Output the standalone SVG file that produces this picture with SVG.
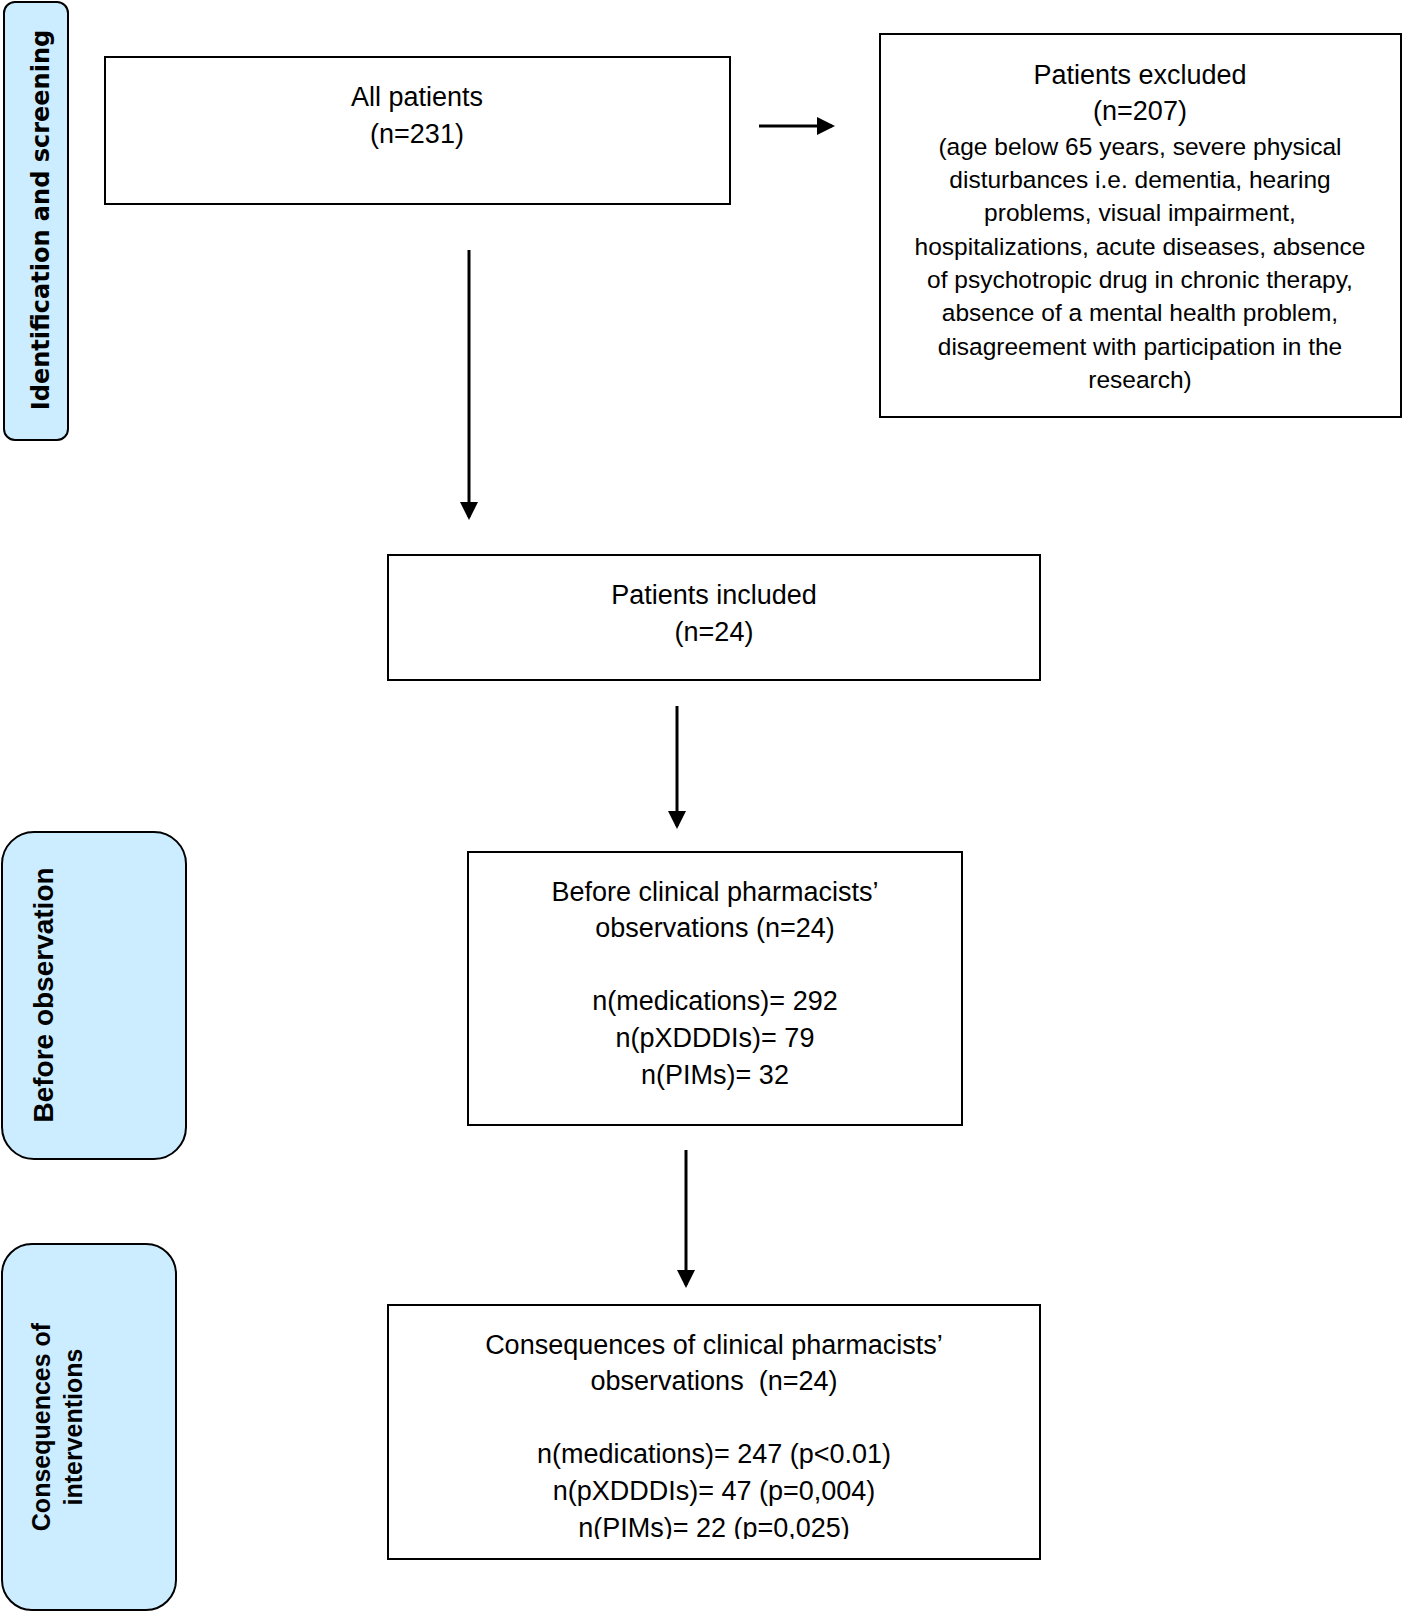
<svg xmlns="http://www.w3.org/2000/svg" width="1402" height="1612" viewBox="0 0 1402 1612">
<style>
.box{fill:#fff;stroke:#000;stroke-width:2}
.tab{fill:#CCECFF;stroke:#000;stroke-width:2}
.t{font-family:"Liberation Sans",Arial,sans-serif;font-size:27px;fill:#000;text-anchor:middle}
.s{font-size:24.5px}
.tb{font-family:"Liberation Sans",Arial,sans-serif;font-weight:bold;fill:#000;text-anchor:middle}
.tv{font-family:"DejaVu Sans",Verdana,sans-serif;font-weight:bold;font-size:24px;fill:#000;text-anchor:middle}
.c{stroke:#000;stroke-width:3;fill:none}
</style>
<defs>
<marker id="ah" markerWidth="6" markerHeight="6" refX="5" refY="3" orient="auto" markerUnits="strokeWidth">
<path d="M0,0 L6,3 L0,6 z" fill="#000"/>
</marker>
<clipPath id="clipC"><rect x="388" y="1305" width="652" height="234"/></clipPath>
</defs>
<rect width="1402" height="1612" fill="#fff"/>
<g id="tab-identification">
<rect class="tab" x="4" y="2" width="64" height="438" rx="11"/>
<text class="tv" transform="translate(49,220) rotate(-90)">Identification and screening</text>
</g>
<g id="tab-before">
<rect class="tab" x="2" y="832" width="184" height="327" rx="32"/>
<text class="tb" font-size="28" transform="translate(53,995) rotate(-90)">Before observation</text>
</g>
<g id="tab-consequences">
<rect class="tab" x="2" y="1244" width="174" height="366" rx="30"/>
<text class="tb" font-size="25" transform="translate(50,1427) rotate(-90)">Consequences of</text>
<text class="tb" font-size="25" transform="translate(82,1427) rotate(-90)">interventions</text>
</g>
<g id="node-all">
<rect class="box" x="105" y="57" width="625" height="147"/>
<text class="t" x="417" y="106">All patients</text>
<text class="t" x="417" y="143">(n=231)</text>
</g>
<g id="node-excluded">
<rect class="box" x="880" y="34" width="521" height="383"/>
<text class="t" x="1140" y="84">Patients excluded</text>
<text class="t" x="1140" y="120">(n=207)</text>
<text class="t s" x="1140" y="155">(age below 65 years, severe physical</text>
<text class="t s" x="1140" y="188">disturbances i.e. dementia, hearing</text>
<text class="t s" x="1140" y="221">problems, visual impairment,</text>
<text class="t s" x="1140" y="255">hospitalizations, acute diseases, absence</text>
<text class="t s" x="1140" y="288">of psychotropic drug in chronic therapy,</text>
<text class="t s" x="1140" y="321">absence of a mental health problem,</text>
<text class="t s" x="1140" y="355">disagreement with participation in the</text>
<text class="t s" x="1140" y="388">research)</text>
</g>
<g id="node-included">
<rect class="box" x="388" y="555" width="652" height="125"/>
<text class="t" x="714" y="604">Patients included</text>
<text class="t" x="714" y="641">(n=24)</text>
</g>
<g id="node-before">
<rect class="box" x="468" y="852" width="494" height="273"/>
<text class="t" x="715" y="901">Before clinical pharmacists’</text>
<text class="t" x="715" y="937">observations (n=24)</text>
<text class="t" x="715" y="1010">n(medications)= 292</text>
<text class="t" x="715" y="1047">n(pXDDDIs)= 79</text>
<text class="t" x="715" y="1084">n(PIMs)= 32</text>
</g>
<g id="node-consequences">
<rect class="box" x="388" y="1305" width="652" height="254"/>
<g clip-path="url(#clipC)">
<text class="t" x="714" y="1354">Consequences of clinical pharmacists’</text>
<text class="t" x="714" y="1390" xml:space="preserve">observations  (n=24)</text>
<text class="t" x="714" y="1463">n(medications)= 247 (p&lt;0.01)</text>
<text class="t" x="714" y="1500">n(pXDDDIs)= 47 (p=0,004)</text>
<text class="t" x="714" y="1537">n(PIMs)= 22 (p=0,025)</text>
</g>
</g>
<g id="connectors">
<line class="c" x1="759" y1="126" x2="832" y2="126" marker-end="url(#ah)"/>
<line class="c" x1="469" y1="250" x2="469" y2="517" marker-end="url(#ah)"/>
<line class="c" x1="677" y1="706" x2="677" y2="826" marker-end="url(#ah)"/>
<line class="c" x1="686" y1="1150" x2="686" y2="1285" marker-end="url(#ah)"/>
</g>
</svg>
